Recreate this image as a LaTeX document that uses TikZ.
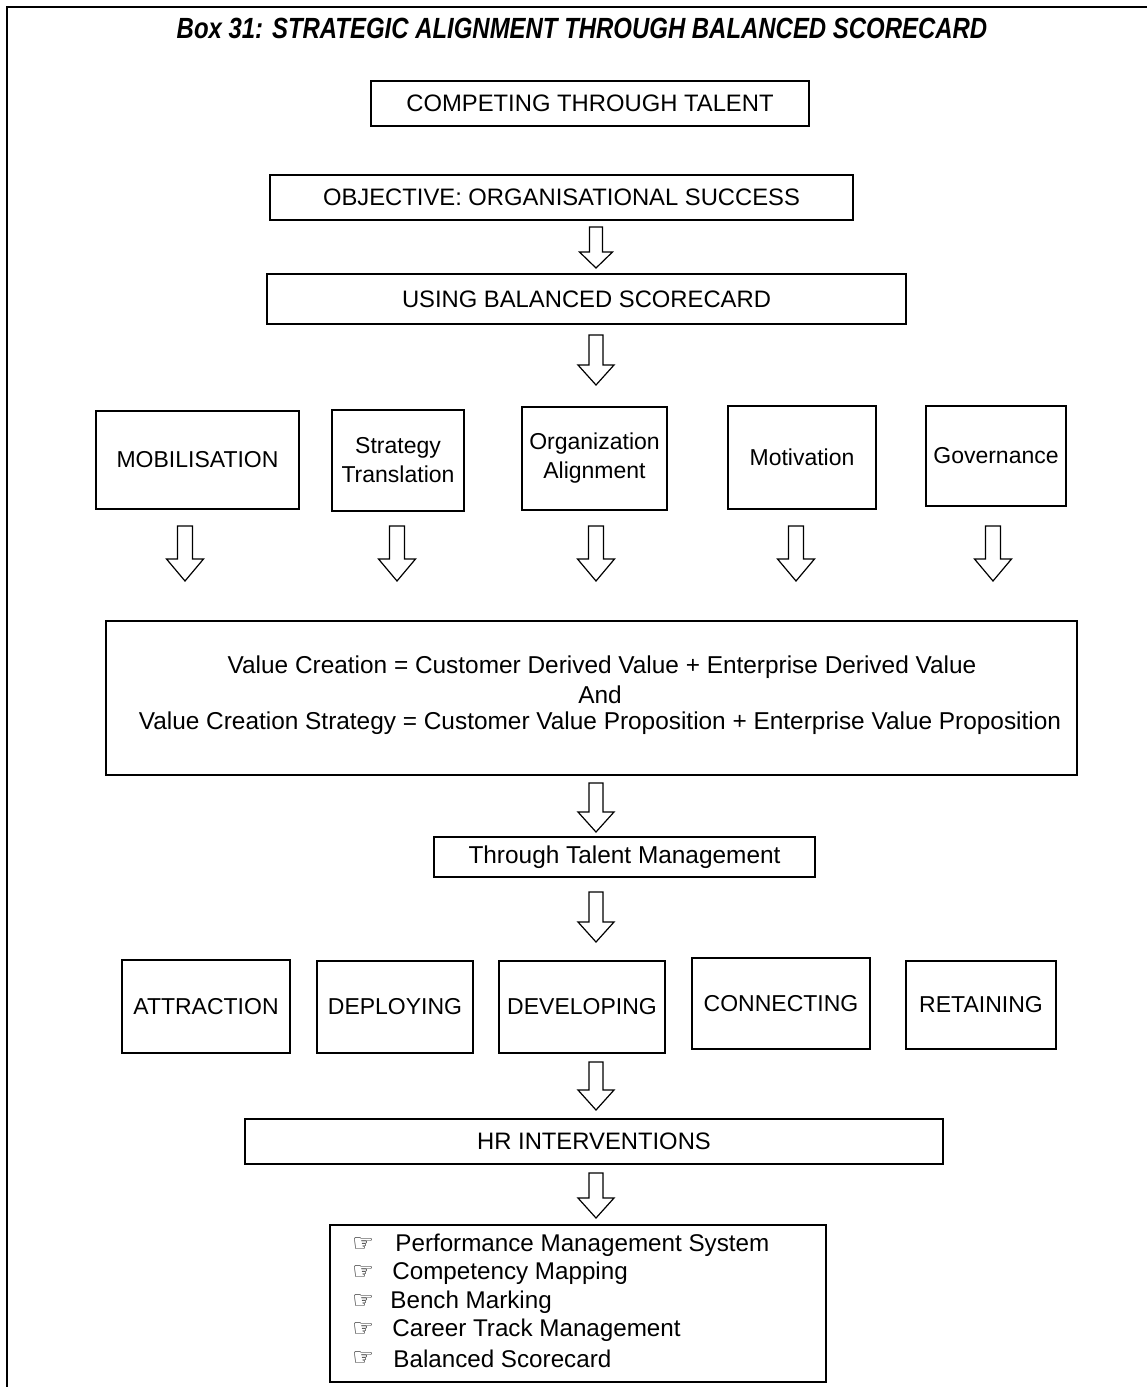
\documentclass[tikz,border=0pt]{standalone}
\usepackage{fontspec}
\setmainfont{Liberation Sans}
\newfontfamily\titlefont[FakeStretch=0.82]{Liberation Sans}
\newfontfamily\symfont{DejaVu Sans}
\newcommand\mybox[7][]{\node[bx, minimum width={(#5-#3)*0.5pt}, minimum height={(#6-#4)*0.5pt}, #1] (#2) at ({(#3+#5)/2},{(#4+#6)/2}) {#7};}
\newcommand\blockarrow[6]{\draw[barrow] ({#1-#4},#2) -- ({#1+#4},#2) -- ({#1+#4},{#3-#6}) -- ({#1+#5},{#3-#6}) -- (#1,#3) -- ({#1-#5},{#3-#6}) -- ({#1-#4},{#3-#6}) -- cycle;}
\begin{document}
\begin{tikzpicture}[x=0.5pt,y=-0.5pt,
  bx/.style={draw, line width=1pt, inner sep=0pt, outer sep=0pt, align=center, font=\fontsize{11.5}{14.5}\selectfont},
  big/.style={font=\fontsize{11.9}{14.5}\selectfont},
  barrow/.style={draw, line width=0.6pt, fill=white, line join=miter},
  vt/.style={inner sep=0pt, font=\fontsize{12.2}{14.5}\selectfont},
  li/.style={anchor=west, inner sep=0pt, font=\fontsize{12.1}{14}\selectfont},
  bu/.style={anchor=west, inner sep=0pt, font=\symfont\fontsize{12}{12}\selectfont}]
\useasboundingbox (0,0) rectangle (1147,1387);
\draw[line width=1.2pt] (7,1387) -- (7,7) -- (1147,7);
\node[font=\titlefont\bfseries\itshape\fontsize{14.6}{16}\selectfont] (title) at (582,28) {Box 31: STRATEGIC ALIGNMENT THROUGH BALANCED SCORECARD};
% top column
\mybox[big]{b1}{371}{81}{809}{126}{COMPETING THROUGH TALENT}
\mybox[big]{b2}{270}{175}{853}{220}{OBJECTIVE: ORGANISATIONAL SUCCESS}
\blockarrow{596}{227}{268}{6.5}{16.5}{16}
\mybox[big]{b3}{267}{274}{906}{324}{USING BALANCED SCORECARD}
\blockarrow{596}{335}{385}{7}{18}{20}
% row 1
\mybox{r1}{96}{411}{299}{509}{MOBILISATION}
\mybox{r2}{332}{410}{464}{511}{Strategy\\Translation}
\mybox{r3}{522}{407}{667}{510}{Organization\\Alignment}
\mybox{r4}{728}{406}{876}{509}{Motivation}
\mybox{r5}{926}{406}{1066}{506}{Governance}
\blockarrow{185}{526}{581}{7.5}{18.5}{22}
\blockarrow{397}{526}{581}{7.5}{18.5}{22}
\blockarrow{596}{526}{581}{7.5}{18.5}{22}
\blockarrow{796}{526}{581}{7.5}{18.5}{22}
\blockarrow{993}{526}{581}{7.5}{18.5}{22}
% value creation
\mybox{vc}{106}{621}{1077}{775}{}
\node[vt] (vc1) at (602,667) {Value Creation = Customer Derived Value + Enterprise Derived Value};
\node[vt] (vc2) at (600,695) {And};
\node[vt] (vc3) at (600,723) {Value Creation Strategy = Customer Value Proposition + Enterprise Value Proposition};
\blockarrow{596}{783}{832}{7}{18}{20}
\mybox[vt]{tm}{434}{837}{815}{877}{Through Talent Management}
\blockarrow{596}{892}{942}{7}{18}{20}
% row 2
\mybox{s1}{122}{960}{290}{1053}{ATTRACTION}
\mybox{s2}{317}{961}{473}{1053}{DEPLOYING}
\mybox{s3}{499}{961}{665}{1053}{DEVELOPING}
\mybox{s4}{692}{958}{870}{1049}{CONNECTING}
\mybox{s5}{906}{961}{1056}{1049}{RETAINING}
\blockarrow{596}{1062}{1110}{7}{18}{20}
\mybox[big]{hr}{245}{1119}{943}{1164}{HR INTERVENTIONS}
\blockarrow{596}{1173}{1218}{7}{18}{20}
% list
\mybox{lst}{330}{1225}{826}{1382}{}
\node[bu] (k1) at (352,1245) {☞};
\node[bu] (k2) at (352,1273) {☞};
\node[bu] (k3) at (352,1302) {☞};
\node[bu] (k4) at (352,1330) {☞};
\node[bu] (k5) at (352,1359) {☞};
\node[li] (l1) at (395,1245) {Performance Management System};
\node[li] (l2) at (392,1273) {Competency Mapping};
\node[li] (l3) at (390,1302) {Bench Marking};
\node[li] (l4) at (392,1330) {Career Track Management};
\node[li] (l5) at (393,1359) {Balanced Scorecard};
\end{tikzpicture}
\end{document}
